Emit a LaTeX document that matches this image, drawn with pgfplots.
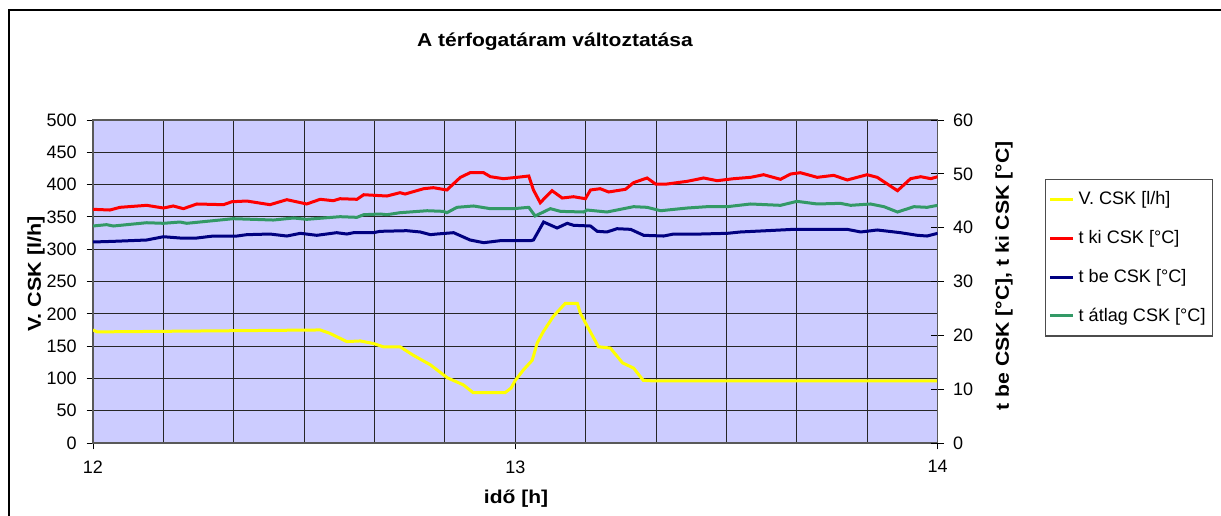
\documentclass[border=0pt]{standalone}
\usepackage{pgfplots}
\pgfplotsset{compat=1.18}
\usepackage{fontspec}
\setmainfont{Liberation Sans}
\definecolor{bgc}{RGB}{204,204,255}
\definecolor{cyel}{RGB}{255,255,0}
\definecolor{cred}{RGB}{255,0,0}
\definecolor{cblue}{RGB}{0,0,128}
\definecolor{cgreen}{RGB}{51,153,102}

\pgfplotstableread{
h v
12.000 175
12.010 172
12.538 175
12.560 170
12.601 157
12.633 158
12.664 154
12.687 149
12.727 149
12.758 136
12.799 121
12.839 101
12.877 90
12.900 78
12.976 78
12.990 85
13.000 97
13.019 113
13.040 128
13.052 155
13.066 172
13.090 196
13.118 216
13.147 216
13.154 201
13.171 180
13.197 149
13.225 147
13.254 124
13.280 116
13.303 97
13.330 96
14.000 96
}\tvol

\pgfplotstableread{
h t
12.000 43.41
12.040 43.28
12.064 43.78
12.127 44.15
12.167 43.65
12.190 44.03
12.214 43.53
12.246 44.40
12.309 44.27
12.329 44.82
12.364 44.95
12.419 44.27
12.459 45.20
12.506 44.40
12.538 45.27
12.569 45.01
12.585 45.38
12.625 45.27
12.641 46.12
12.696 45.88
12.727 46.50
12.739 46.25
12.783 47.24
12.806 47.43
12.838 47.00
12.870 49.35
12.893 50.21
12.925 50.21
12.941 49.47
12.972 49.10
13.004 49.35
13.032 49.60
13.043 47.00
13.059 44.64
13.087 46.87
13.111 45.51
13.138 45.75
13.166 45.38
13.178 47.00
13.201 47.24
13.221 46.63
13.261 47.13
13.280 48.36
13.312 49.23
13.332 48.11
13.359 48.11
13.407 48.61
13.446 49.23
13.478 48.73
13.517 49.10
13.557 49.35
13.588 49.84
13.628 48.98
13.652 49.97
13.675 50.21
13.715 49.35
13.754 49.72
13.786 48.86
13.833 49.84
13.857 49.35
13.905 46.87
13.936 49.10
13.960 49.47
13.984 49.10
14.000 49.47
}\tki

\pgfplotstableread{
h t
12.000 37.34
12.048 37.46
12.127 37.71
12.167 38.32
12.206 38.08
12.246 38.08
12.285 38.45
12.341 38.45
12.364 38.70
12.419 38.82
12.459 38.45
12.491 38.95
12.530 38.58
12.577 39.07
12.601 38.82
12.617 39.07
12.664 39.07
12.680 39.32
12.743 39.44
12.775 39.20
12.799 38.70
12.814 38.82
12.854 39.07
12.893 37.71
12.925 37.21
12.964 37.58
13.036 37.58
13.043 37.71
13.067 41.05
13.099 39.94
13.123 40.81
13.138 40.44
13.178 40.31
13.194 39.32
13.217 39.20
13.241 39.81
13.273 39.69
13.304 38.58
13.351 38.45
13.375 38.82
13.438 38.82
13.502 38.95
13.533 39.20
13.596 39.44
13.659 39.69
13.786 39.69
13.818 39.20
13.857 39.57
13.912 39.07
13.952 38.58
13.975 38.45
14.000 38.95
}\tbe

\pgfplotstableread{
h t
12.000 40.31
12.032 40.56
12.048 40.31
12.127 40.92
12.167 40.81
12.206 41.05
12.222 40.81
12.285 41.30
12.332 41.67
12.427 41.42
12.475 41.80
12.506 41.55
12.585 42.04
12.625 41.92
12.641 42.41
12.680 42.54
12.696 42.41
12.727 42.78
12.791 43.15
12.830 43.03
12.838 42.78
12.862 43.78
12.901 44.03
12.941 43.53
12.996 43.53
13.032 43.78
13.047 42.17
13.083 43.53
13.107 43.03
13.162 42.91
13.170 43.28
13.217 42.91
13.280 43.90
13.312 43.78
13.344 43.15
13.407 43.65
13.454 43.90
13.502 43.90
13.557 44.40
13.628 44.15
13.667 44.89
13.715 44.40
13.770 44.52
13.794 44.15
13.841 44.40
13.873 43.90
13.905 42.91
13.944 43.90
13.975 43.78
14.000 44.15
}\tatl

\pgfplotsset{
  mybase/.style={
    scale only axis, width=422.3pt, height=161.5pt,
    xmin=12, xmax=14,
    at={(46.5pt,-221.5pt)}, anchor=south west,
    /pgf/number format/assume math mode=true,
    tick label style={font=\fontsize{9.0}{11}\selectfont},
    tick style={black, line width=0.5pt},
    axis line style={black!65, line width=0.7pt},
  }
}
\newcommand{\lbl}[2]{\scalebox{#1}[1]{\bfseries\fontsize{9.3}{11}\selectfont #2}}

\begin{document}
\begin{tikzpicture}
\path[use as bounding box] (0,0) rectangle (610.5pt,-257.5pt);
\draw[line width=0.75pt] (4.5pt,-260pt) -- (4.5pt,-5pt) -- (612pt,-5pt);

\begin{axis}[mybase,
  axis background/.style={fill=bgc},
  ymin=0, ymax=500, ytick={0,50,...,500},
  xtick={12,13,14}, minor x tick num=5,
  xtick pos=left, ytick pos=left,
  tick align=outside, major tick length=3.2pt, minor tick length=0pt,
  xmajorgrids, xminorgrids, ymajorgrids,
  major grid style={black!85, line width=0.5pt},
  minor grid style={black!85, line width=0.5pt},
  xticklabel style={yshift=-2pt},
  yticklabel style={xshift=-1.5pt},
]
\addplot[cyel, line width=1.5pt] table[x=h,y=v] {\tvol};
\end{axis}

\begin{axis}[mybase,
  hide x axis, axis y line*=right,
  ymin=0, ymax=60, ytick={0,10,...,60},
  tick align=center, major tick length=6.5pt,
  yticklabel style={xshift=1pt},
  legend style={at={(rel axis cs:1.1272,0.8173)}, anchor=north west,
    draw=black!70, line width=0.6pt, fill=white,
    font=\fontsize{9.05}{11}\selectfont,
    row sep=7.3pt, inner xsep=1.5pt, inner ysep=4pt,
    cells={anchor=west}},
  legend image code/.code={\draw[#1, line width=1.5pt] (0pt,0pt) -- (11.5pt,0pt);},
]
\addlegendimage{cyel, line width=1.5pt}
\addlegendentry{V. CSK [l/h]}
\addplot[cred, line width=1.5pt] table[x=h,y=t] {\tki};
\addlegendentry{t ki CSK [°C]}
\addplot[cblue, line width=1.5pt] table[x=h,y=t] {\tbe};
\addlegendentry{t be CSK [°C]}
\addplot[cgreen, line width=1.5pt] table[x=h,y=t] {\tatl};
\addlegendentry{t átlag CSK [°C]}
\end{axis}

\node at (277.5pt,-21pt) {\lbl{1.13}{A térfogatáram változtatása}};
\node at (258pt,-249.5pt) {\lbl{1.13}{idő [h]}};
\node[rotate=90] at (18pt,-137pt) {\lbl{1.16}{V. CSK [l/h]}};
\node[rotate=90] at (502pt,-138pt) {\lbl{1.14}{t be CSK [°C], t ki CSK [°C]}};
\end{tikzpicture}
\end{document}
